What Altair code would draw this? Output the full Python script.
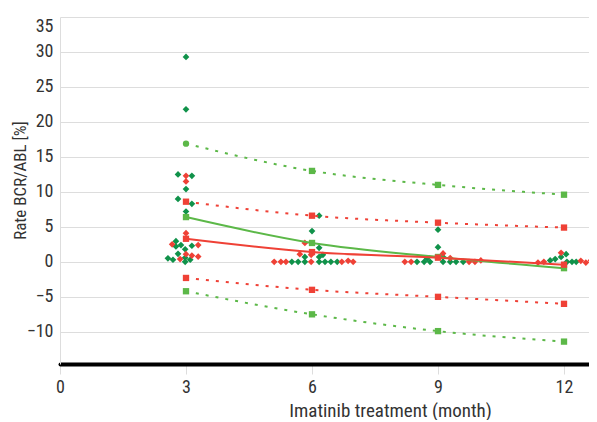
import altair as alt
import pandas as pd

# Fitted curves and bands at the measurement months
months = [3, 6, 9, 12]
green_fit = [6.4, 2.7, 0.7, -0.9]
red_fit = [3.3, 1.4, 0.6, -0.4]
green_upper = [16.9, 13.0, 11.0, 9.6]
green_lower = [-4.2, -7.5, -9.9, -11.4]
red_upper = [8.6, 6.6, 5.6, 4.9]
red_lower = [-2.3, -4.0, -5.0, -6.0]

# Individual patients (month, rate)
green_x = [3, 3, 2.81, 3.14, 3, 2.81, 3.14, 3, 2.76, 2.88, 2.76, 2.98, 3.14, 2.81, 2.57, 2.69, 2.98, 3.1, 2.98,
           6.17, 6.0, 6.17, 5.83, 6.17, 6.26, 5.52, 5.67, 5.83, 6.17, 6.31, 6.45, 6.6,
           9.0, 9.0, 8.74, 9.12, 8.5, 8.67, 8.81, 9.12, 9.29, 9.43, 9.6,
           11.67, 11.79, 11.93, 12.05, 12.07, 12.19, 12.29]
green_y = [29.3, 21.8, 12.5, 12.3, 10.4, 9.0, 8.3, 7.2, 2.95, 2.4, 2.2, 1.8, 2.3, 1.15, 0.5, 0.3, 0.0, 0.3, 0.6,
           6.6, 4.4, 2.0, 0.7, 0.7, 1.0, 0.0, 0.0, 0.0, 0.0, 0.0, 0.0, 0.0,
           4.6, 2.1, 0.5, 0.7, 0.0, 0.0, 0.0, 0.0, 0.0, 0.0, 0.0,
           0.2, 0.4, 0.7, 1.1, 0.0, 0.0, 0.0]
red_x = [3, 3, 3, 2.67, 3.29, 3, 3.14, 3.29, 2.86,
         5.83, 5.71, 5.98, 5.1, 5.26, 5.38, 5.98, 6.71, 6.86, 6.98,
         9.12, 9.29, 8.21, 8.36, 9.74, 9.88, 10.02,
         11.38, 11.52, 11.93, 12.4, 12.52, 12.64]
red_y = [12.3, 11.5, 4.1, 2.5, 2.4, 1.1, 0.9, 0.75, 0.4,
         2.7, 1.1, 1.0, 0.0, 0.0, 0.0, 0.0, 0.0, 0.15, 0.0,
         1.2, 0.55, 0.0, 0.0, 0.0, 0.0, 0.2,
         -0.1, 0.0, 1.3, 0.15, -0.1, 0.2]

x_ticks = [0, 3, 6, 9, 12]
y_ticks = [-10, -5, 0, 5, 10, 15, 20, 25, 30, 35]

DARK_GREEN = "#10924a"
RED = "#ef4136"
LIGHT_GREEN = "#5cb848"

rows = []
for name, vals, col, kind in [
    ("green_upper", green_upper, LIGHT_GREEN, "band"),
    ("green_lower", green_lower, LIGHT_GREEN, "band"),
    ("red_upper", red_upper, RED, "band"),
    ("red_lower", red_lower, RED, "band"),
    ("green_fit", green_fit, LIGHT_GREEN, "fit"),
    ("red_fit", red_fit, RED, "fit"),
]:
    for i, (m, v) in enumerate(zip(months, vals)):
        shape = "circle" if (name == "green_upper" and i == 0) else "square"
        rows.append({"month": m, "value": v, "series": name, "col": col, "kind": kind, "shape": shape})
lines_df = pd.DataFrame(rows)

pts_df = pd.DataFrame(
    [{"month": x, "value": y, "col": DARK_GREEN} for x, y in zip(green_x, green_y)]
    + [{"month": x, "value": y, "col": RED} for x, y in zip(red_x, red_y)]
)

FONT = "Roboto Condensed, Liberation Sans Narrow, Roboto, sans-serif"

x_enc = alt.X("month:Q",
              scale=alt.Scale(domain=[0, 12.595], nice=False, zero=False),
              axis=alt.Axis(values=x_ticks, title="Imatinib treatment (month)", grid=False,
                            domainColor="black", domainWidth=4, domainCap="round",
                            tickColor="#dddddd", tickSize=10, tickWidth=1, labelPadding=4,
                            labelFlush=False,
                            labelFont=FONT, titleFont=FONT, labelFontSize=18, titleFontSize=19,
                            labelColor="#333333", titleColor="#333333", titleFontWeight="normal",
                            titleX=330, titleY=52, titleBaseline="alphabetic", titleAlign="center"))
y_enc = alt.Y("value:Q",
              scale=alt.Scale(domain=[-14.6, 35], nice=False, zero=False),
              axis=alt.Axis(values=y_ticks, title="Rate BCR/ABL [%]", labelOverlap=False,
                            labelFlush=True, labelFlushOffset=0,
                            grid=True, gridColor="#dddddd", domainColor="#dddddd", ticks=False,
                            labelFont=FONT, titleFont=FONT, labelFontSize=18, titleFontSize=17,
                            labelColor="#333333", titleColor="#333333", titleFontWeight="normal",
                            labelPadding=7, titleX=-40, titleY=163, titleAlign="center",
                            titleBaseline="middle", titleAngle=-90))

color_enc = alt.Color("col:N", scale=None)

scatter = alt.Chart(pts_df).mark_point(shape="diamond", filled=True, size=45, opacity=1).encode(
    x=x_enc, y=y_enc, color=color_enc)

bands = alt.Chart(lines_df).transform_filter(alt.datum.kind == "band").mark_line(
    strokeDash=[3, 7], strokeWidth=2, interpolate="monotone").encode(
    x=x_enc, y=y_enc, color=color_enc, detail="series:N")

fits = alt.Chart(lines_df).transform_filter(alt.datum.kind == "fit").mark_line(
    strokeWidth=2, interpolate="monotone").encode(
    x=x_enc, y=y_enc, color=color_enc, detail="series:N")

markers = alt.Chart(lines_df).mark_point(filled=True, size=40, opacity=1).encode(
    x=x_enc, y=y_enc, color=color_enc,
    shape=alt.Shape("shape:N", scale=None))

chart = alt.layer(scatter, bands, fits, markers).properties(
    width=529, height=347,
    background="white",
    autosize=alt.AutoSizeParams(type="none"),
    padding={"left": 52, "top": 9, "right": 0, "bottom": 56},
).configure_view(stroke=None)

chart.save("out.html", embed_options={"renderer": "svg", "actions": False})
